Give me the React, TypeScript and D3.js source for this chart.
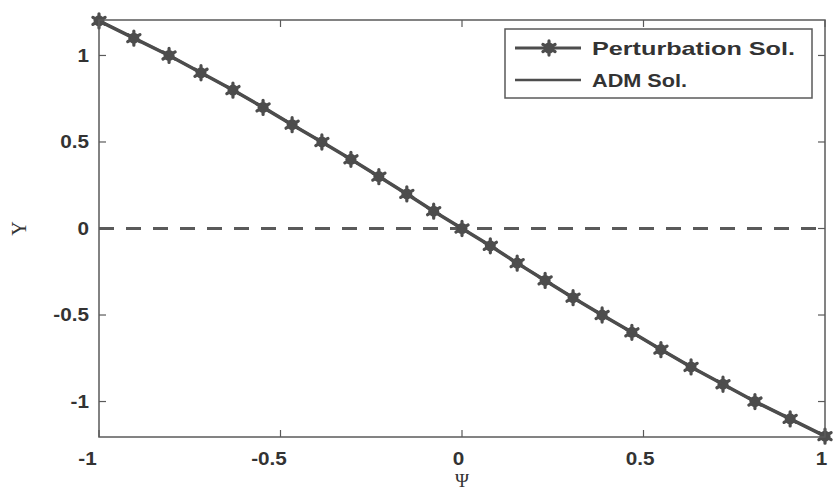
import React from "react";
import * as d3 from "d3";

const psi = [-1, -0.904, -0.807, -0.719, -0.631, -0.548, -0.468, -0.386, -0.306, -0.229, -0.152, -0.078, 0,
  0.078, 0.152, 0.229, 0.306, 0.386, 0.468, 0.548, 0.631, 0.719, 0.807, 0.904, 1];
const yPerturbation = [1.2, 1.1, 1.0, 0.9, 0.8, 0.7, 0.6, 0.5, 0.4, 0.3, 0.2, 0.1, 0,
  -0.1, -0.2, -0.3, -0.4, -0.5, -0.6, -0.7, -0.8, -0.9, -1.0, -1.1, -1.2];
const yADM = [1.2, 1.1, 1.0, 0.9, 0.8, 0.7, 0.6, 0.5, 0.4, 0.3, 0.2, 0.1, 0,
  -0.1, -0.2, -0.3, -0.4, -0.5, -0.6, -0.7, -0.8, -0.9, -1.0, -1.1, -1.2];
const xTicks = [-1, -0.5, 0, 0.5, 1];
const yTicks = [-1, -0.5, 0, 0.5, 1];
const legendLabels = ["Perturbation Sol.", "ADM Sol."];
const refLineY = 0;

const W = 839, H = 490;
const L = 99, R = 825, T = 20, B = 437;
const LINE = "#4d4d4d";
const AXIS = "#5a5a5a";
const TEXT = "#333";
const FONT = "'Liberation Sans', Arial, sans-serif";

export default function App() {
  const x = d3.scaleLinear().domain([-1, 1]).range([L, R]);
  const y = d3.scaleLinear().domain([-1.205, 1.205]).range([B, T]);
  const line = d3.line<number>().x((_, i) => x(psi[i])).y((d) => y(d));
  const star = d3.symbol().type(d3.symbolAsterisk).size(140)() as string;
  const tickLen = 7;
  const fmt = (v: number) => String(v);

  const Marker = ({ cx, cy }: { cx: number; cy: number }) => (
    <g transform={`translate(${cx},${cy})`}>
      <circle r={5.5} fill={LINE} />
      <path d={star} fill="none" stroke={LINE} strokeWidth={3.2} strokeLinecap="round" />
    </g>
  );

  return (
    <svg width={W} height={H} style={{ position: "absolute", left: 0, top: 0, background: "#fff" }}>
      <rect x={0} y={0} width={W} height={H} fill="#fff" />
      <line x1={L} x2={R} y1={y(refLineY)} y2={y(refLineY)} stroke="#5a5a5a" strokeWidth={3} strokeDasharray="15,12" />
      <path d={line(yPerturbation) as string} fill="none" stroke={LINE} strokeWidth={3.5} />
      {yPerturbation.map((v, i) => (
        <Marker key={i} cx={x(psi[i])} cy={y(v)} />
      ))}
      <path d={line(yADM) as string} fill="none" stroke={LINE} strokeWidth={2.5} />

      <rect x={L} y={T} width={R - L} height={B - T} fill="none" stroke={AXIS} strokeWidth={1.5} />
      {xTicks.map((t) => (
        <g key={"x" + t}>
          <line x1={x(t)} x2={x(t)} y1={B} y2={B - tickLen} stroke={AXIS} strokeWidth={1.2} />
          <line x1={x(t)} x2={x(t)} y1={T} y2={T + tickLen} stroke={AXIS} strokeWidth={1.2} />
          <text x={x(t)} dx={t < 0 ? -10 : -3} y={465} textAnchor="middle" fontFamily={FONT} fontWeight="bold"
            fontSize={18} fill={TEXT} transform={`translate(${x(t)},0) scale(1.15,1) translate(${-x(t)},0)`}>{fmt(t)}</text>
        </g>
      ))}
      {yTicks.map((t) => (
        <g key={"y" + t}>
          <line x1={L} x2={L + tickLen} y1={y(t)} y2={y(t)} stroke={AXIS} strokeWidth={1.2} />
          <line x1={R} x2={R - tickLen} y1={y(t)} y2={y(t)} stroke={AXIS} strokeWidth={1.2} />
          <text x={89} y={y(t)} dy="0.36em" textAnchor="end" fontFamily={FONT} fontWeight="bold"
            fontSize={18} fill={TEXT} transform={`translate(89,0) scale(1.15,1) translate(-89,0)`}>{fmt(t)}</text>
        </g>
      ))}
      <text x={462} y={487} textAnchor="middle" fontFamily="'Liberation Serif', 'DejaVu Serif', serif" fontSize={19} fill={TEXT}>Ψ</text>
      <text transform={`translate(26,${y(0)}) rotate(-90)`} textAnchor="middle" fontFamily="'Liberation Serif', serif" fontSize={20} fill={TEXT}>Y</text>

      <rect x={505} y={29} width={307} height={69} fill="#fff" stroke={AXIS} strokeWidth={1.5} />
      <line x1={515} x2={581} y1={48} y2={48} stroke={LINE} strokeWidth={3} />
      <Marker cx={549} cy={48} />
      <line x1={515} x2={581} y1={80} y2={80} stroke={LINE} strokeWidth={2.5} />
      {legendLabels.map((lab, i) => (
        <text key={lab} x={592} y={i === 0 ? 55 : 87} fontFamily={FONT} fontWeight="bold" fontSize={19} fill={TEXT}
          textLength={i === 0 ? 203 : 95} lengthAdjust="spacingAndGlyphs">{lab}</text>
      ))}
    </svg>
  );
}
